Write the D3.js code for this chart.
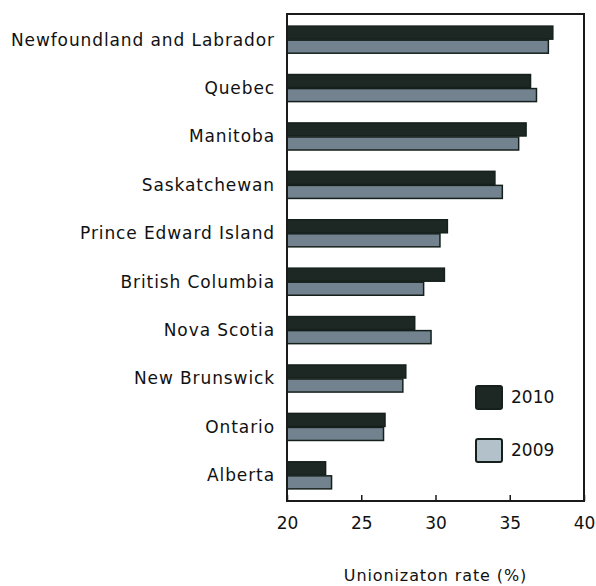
<!DOCTYPE html>
<html>
<head>
<meta charset="utf-8" />
<title>Unionization rate by province</title>
<script src="https://cdn.jsdelivr.net/npm/d3@7/dist/d3.min.js"></script>
<style>
body { margin:0; background:#fff; }
text { font-family: "DejaVu Sans", sans-serif; fill:#111; }
</style>
</head>
<body>
<div id="chart"></div>
<script>
// provinces, top to bottom
const provinces = ["Newfoundland and Labrador","Quebec","Manitoba","Saskatchewan",
	"Prince Edward Island","British Columbia","Nova Scotia","New Brunswick","Ontario","Alberta"];
const rate2010 = [37.9, 36.4, 36.1, 34.0, 30.8, 30.6, 28.6, 28.0, 26.6, 22.6];
const rate2009 = [37.6, 36.8, 35.6, 34.5, 30.3, 29.2, 29.7, 27.8, 26.5, 23.0];
const seriesNames = ["2010","2009"];
const xTicks = [20, 25, 30, 35, 40];

const width = 596, height = 586;
const margin = {top: 14, right: 12, bottom: 85, left: 287};
const pw = width - margin.left - margin.right;
const ph = height - margin.top - margin.bottom;

const svg = d3.select("#chart").append("svg")
	.attr("width", width)
	.attr("height", height);

const g = svg.append("g")
	.attr("transform", "translate(" + margin.left + "," + margin.top + ")");

const x = d3.scaleLinear().domain([20, 40]).range([0, pw]);
const y = d3.scaleBand().domain(provinces).range([0, ph]).paddingInner(0.42).paddingOuter(0.24);
const ySub = d3.scaleBand().domain(seriesNames).range([0, y.bandwidth()]);

const barFill = {"2010": "#1d2824", "2009": "#72838f"};
const legendFill = {"2010": "#1d2824", "2009": "#b3c1ca"};

const rows = provinces.map((p, i) => ({p: p, v: {"2010": rate2010[i], "2009": rate2009[i]}}));

const grp = g.selectAll("g.row").data(rows).enter().append("g")
	.attr("class", "row")
	.attr("transform", d => "translate(0," + y(d.p) + ")");

grp.selectAll("rect").data(d => seriesNames.map(s => ({s: s, v: d.v[s]}))).enter().append("rect")
	.attr("x", 0)
	.attr("y", d => ySub(d.s) + 0.5)
	.attr("width", d => x(d.v))
	.attr("height", ySub.bandwidth() - 1)
	.attr("fill", d => barFill[d.s])
	.attr("stroke", "#15201c")
	.attr("stroke-width", 1.5);

// category labels
g.selectAll("text.cat").data(provinces).enter().append("text")
	.attr("class", "cat")
	.attr("x", -12)
	.attr("y", d => y(d) + y.bandwidth() / 2)
	.attr("dy", "0.35em")
	.attr("text-anchor", "end")
	.style("font-size", "17px")
	.style("letter-spacing", "0.9px")
	.text(d => d);

// frame
g.append("rect")
	.attr("x", 0).attr("y", 0)
	.attr("width", pw).attr("height", ph)
	.attr("fill", "none")
	.attr("stroke", "#1a1a1a")
	.attr("stroke-width", 2);

// x axis: ticks inside, labels below
const xAxis = d3.axisBottom(x).tickValues(xTicks).tickSizeInner(-6).tickSizeOuter(0).tickPadding(16);
const ax = g.append("g")
	.attr("transform", "translate(0," + ph + ")")
	.call(xAxis);
ax.select(".domain").remove();
ax.selectAll(".tick line").attr("stroke", "#1a1a1a").attr("stroke-width", 1.5);
ax.selectAll(".tick text")
	.style("font-size", "17px")
	.style("font-family", "'DejaVu Sans', sans-serif")
	.attr("fill", "#111");

g.append("text")
	.attr("x", pw / 2)
	.attr("y", ph + 80)
	.attr("text-anchor", "middle")
	.style("font-size", "16px")
	.style("letter-spacing", "0.9px")
	.text("Unionizaton rate (%)");

// legend
const leg = g.append("g").attr("transform", "translate(189,372)");
const legItems = leg.selectAll("g").data(seriesNames).enter().append("g")
	.attr("transform", (d, i) => "translate(0," + i * 53 + ")");
legItems.append("rect")
	.attr("width", 26).attr("height", 23)
	.attr("rx", 2)
	.attr("fill", d => legendFill[d])
	.attr("stroke", "#15201c")
	.attr("stroke-width", 2);
legItems.append("text")
	.attr("x", 35).attr("y", 11.5)
	.attr("dy", "0.35em")
	.style("font-size", "17px")
	.text(d => d);
</script>
</body>
</html>
